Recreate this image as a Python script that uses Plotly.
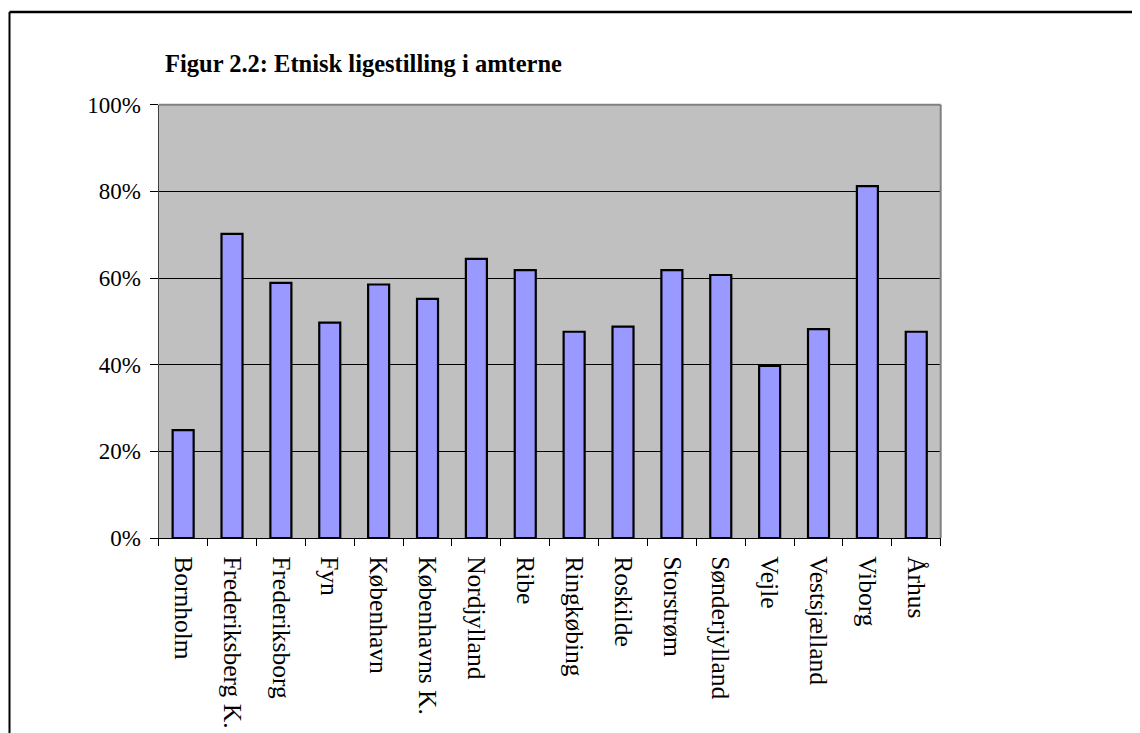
import plotly.graph_objects as go

categories = ["Bornholm", "Frederiksberg K.", "Frederiksborg", "Fyn", "København",
              "Københavns K.", "Nordjylland", "Ribe", "Ringkøbing", "Roskilde",
              "Storstrøm", "Sønderjylland", "Vejle", "Vestsjælland", "Viborg", "Århus"]
values = [0.249, 0.702, 0.589, 0.497, 0.585, 0.552, 0.644, 0.618, 0.476, 0.488,
          0.618, 0.607, 0.397, 0.482, 0.812, 0.476]
y_ticks = [0, 0.2, 0.4, 0.6, 0.8, 1.0]
title_text = "Figur 2.2: Etnisk ligestilling i amterne"

# the page body has an 8px margin, so work in shifted coordinates
OFF = 8
W, H = 1140 - OFF, 733 - OFF
px_left, px_right, px_top, px_bottom = 158.7 - OFF, 940.7 - OFF, 104.7 - OFF, 538.0 - OFF

FONT = "Liberation Serif, Times New Roman, serif"


def px(xp):
    return xp / W


def py(yp):
    return 1 - yp / H


fig = go.Figure(go.Bar(
    x=categories, y=values,
    marker=dict(color="#9999FF", line=dict(color="black", width=2.2)),
    hoverinfo="x+y",
))

fig.update_layout(
    width=W, height=H,
    margin=dict(l=0, r=0, t=0, b=0, autoexpand=False),
    paper_bgcolor="white",
    plot_bgcolor="#C0C0C0",
    bargap=0.57,
    showlegend=False,
    font=dict(family=FONT, color="black", size=23),
    xaxis=dict(
        domain=[px(px_left), px(px_right)],
        type="category",
        tickangle=90,
        ticks="outside", ticklen=7, tickwidth=1, tickcolor="black",
        tickson="boundaries",
        showline=True, linecolor="black", linewidth=1.2,
        showgrid=False,
        tickfont=dict(family=FONT, size=25.5, color="black"),
        ticklabelstandoff=12,
        automargin=False,
    ),
    yaxis=dict(
        domain=[py(px_bottom), py(px_top)],
        range=[0, 1],
        tickvals=y_ticks,
        tickformat=".0%",
        ticks="outside", ticklen=8, tickwidth=1, tickcolor="black",
        showline=True, linecolor="#404040", linewidth=1.2,
        showgrid=True, gridcolor="black", gridwidth=1,
        zeroline=False,
        tickfont=dict(family=FONT, size=23, color="black"),
        ticklabelstandoff=4,
        automargin=False,
    ),
    annotations=[dict(
        text="<b>" + title_text + "</b>",
        xref="paper", yref="paper",
        x=px(165 - OFF - 2), y=py(63 - OFF),
        xanchor="left", yanchor="middle",
        showarrow=False,
        font=dict(family=FONT, size=24.5, color="black"),
    )],
    shapes=[
        # outer frame (top and left edges visible)
        dict(type="line", xref="paper", yref="paper",
             x0=px(9.5 - OFF), x1=1.01, y0=py(12 - OFF), y1=py(12 - OFF),
             line=dict(color="black", width=2.5), layer="above"),
        dict(type="line", xref="paper", yref="paper",
             x0=px(9.5 - OFF), x1=px(9.5 - OFF), y0=py(12 - OFF), y1=-0.01,
             line=dict(color="black", width=2), layer="above"),
        # plot area gray top and right border
        dict(type="line", xref="paper", yref="paper",
             x0=px(px_left), x1=px(px_right), y0=py(px_top), y1=py(px_top),
             line=dict(color="#808080", width=2), layer="above"),
        dict(type="line", xref="paper", yref="paper",
             x0=px(px_right), x1=px(px_right), y0=py(px_top), y1=py(px_bottom),
             line=dict(color="#808080", width=2), layer="above"),
    ],
)

fig.write_html("out.html")
